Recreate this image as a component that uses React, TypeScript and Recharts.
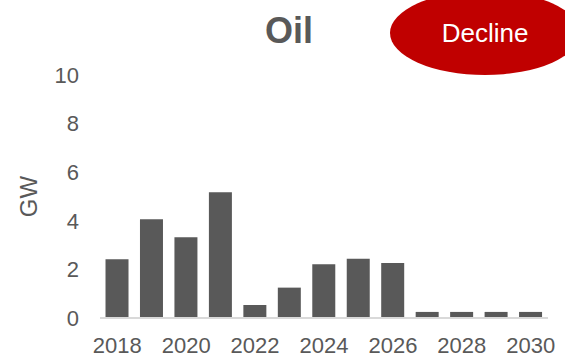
import { BarChart, Bar, XAxis, YAxis } from "recharts";

const years = [
  "2018", "2019", "2020", "2021", "2022", "2023", "2024",
  "2025", "2026", "2027", "2028", "2029", "2030",
];
const capacity = [2.42, 4.06, 3.32, 5.17, 0.53, 1.25, 2.21, 2.44, 2.26, 0.25, 0.25, 0.25, 0.25];
const yTicks = [0, 2, 4, 6, 8, 10];
const xTicks = ["2018", "2020", "2022", "2024", "2026", "2028", "2030"];

const data = years.map((year, i) => ({ year, gw: capacity[i] }));

const font = "'Liberation Sans', Arial, sans-serif";
const grey = "#595959";

export default function App() {
  return (
    <div style={{ position: "absolute", left: 0, top: 0, width: 565, height: 361 }}>
      <BarChart
        width={565}
        height={361}
        data={data}
        margin={{ top: 75, right: 17, left: 0, bottom: 0 }}
        barCategoryGap="16%"
      >
        <XAxis
          dataKey="year"
          ticks={xTicks}
          interval={0}
          height={43}
          tickLine={false}
          tickSize={0}
          tickMargin={19}
          axisLine={{ stroke: "#d9d9d9", strokeWidth: 2 }}
          tick={{ fill: grey, fontSize: 22, fontFamily: font }}
        />
        <YAxis
          width={100}
          domain={[0, 10]}
          ticks={yTicks}
          axisLine={false}
          tickLine={false}
          tickSize={0}
          tickMargin={21}
          tick={{ fill: grey, fontSize: 22, fontFamily: font }}
          label={{
            value: "GW",
            angle: -90,
            position: "insideLeft",
            offset: 28,
            style: { fill: grey, fontSize: 24, fontFamily: font, textAnchor: "middle" },
          }}
        />
        <Bar dataKey="gw" fill={grey} isAnimationActive={false} />
      </BarChart>
      <svg
        width={565}
        height={361}
        style={{ position: "absolute", left: 0, top: 0, pointerEvents: "none" }}
      >
        <text
          x={289}
          y={43}
          textAnchor="middle"
          fontFamily={font}
          fontWeight="bold"
          fontSize={36}
          fill={grey}
        >
          Oil
        </text>
        <ellipse cx={485} cy={33} rx={95} ry={42} fill="#c00000" />
        <text
          x={485}
          y={42}
          textAnchor="middle"
          fontFamily={font}
          fontSize={26}
          fill="#ffffff"
        >
          Decline
        </text>
      </svg>
    </div>
  );
}
